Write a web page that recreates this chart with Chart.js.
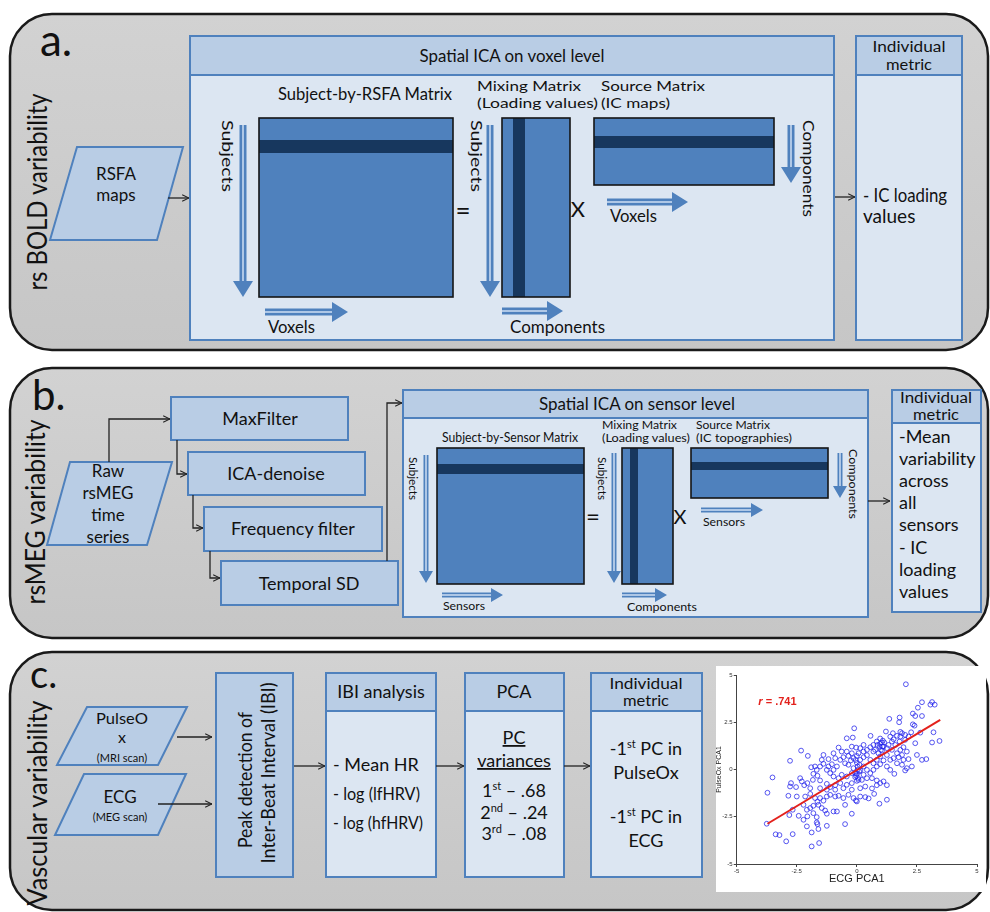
<!DOCTYPE html>
<html><head><meta charset="utf-8">
<script src="https://cdn.jsdelivr.net/npm/chart.js@4.4.0/dist/chart.umd.min.js"></script>
<style>
html,body{margin:0;padding:0;background:#fff;}
#wrap{position:relative;width:990px;height:912px;overflow:hidden;background:#fff;}
#diagram{position:absolute;left:0;top:0;}
#scatterBox{position:absolute;left:712px;top:668px;width:272px;height:222px;}
</style></head><body>
<div id="wrap"><svg id="diagram" width="990" height="912" xmlns="http://www.w3.org/2000/svg"></svg>
<div id="scatterBox"><canvas id="c" width="272" height="222"></canvas></div></div>
<script>
// ---------------- data ----------------
const scatterX = [2.04,2.71,3.13,3.24,3.06,2.54,2.33,2.71,2.43,1.35,
1.78,1.76,2.33,2.40,-0.11,1.21,1.81,3.19,2.26,2.64,
-0.42,-0.17,0.57,0.97,1.08,1.39,1.53,1.67,1.88,2.01,
2.15,2.43,3.13,3.44,-2.32,-2.04,-2.78,-0.76,-0.42,-0.21,
-0.03,0.14,0.28,0.42,0.56,0.76,0.86,1.04,1.11,1.25,
1.46,1.67,1.81,1.94,2.08,2.50,2.71,2.89,2.15,-1.46,
-1.39,-1.18,-1.04,-0.97,-0.83,-0.69,-0.56,-0.49,-0.35,-0.25,
-0.14,0.00,0.14,0.28,0.42,0.56,0.69,0.83,0.97,1.11,
1.25,1.39,1.56,1.67,1.88,2.08,2.29,2.01,-1.90,-1.67,
-1.81,-2.36,-2.74,-2.53,-2.29,-2.19,-2.06,-1.83,-1.64,-1.53,
-1.25,-1.11,-0.90,-0.69,-0.56,-0.42,-0.21,-0.07,0.00,0.03,
0.14,0.21,0.42,0.63,0.83,0.97,1.11,1.25,0.63,0.83,
-3.51,-3.72,-2.85,-2.50,-2.15,-1.94,-1.74,-1.64,-1.53,-1.39,
-1.25,-1.11,-0.90,-0.76,-0.56,-0.35,-0.14,0.00,0.14,0.35,
0.49,0.72,-0.04,-2.67,-2.22,-2.08,-1.94,-1.81,-1.60,-1.46,
-1.32,-1.25,-0.97,-0.83,-0.49,-0.21,0.94,1.25,-2.81,-2.42,
-2.22,-2.06,-1.81,-1.67,-1.67,-1.64,-1.60,-1.25,-0.49,-3.38,
-3.22,-2.67,-2.94,-1.88,-1.57,-1.88,-2.08,-3.75,-0.07,-0.03,
0.03,-0.14,0.11,0.28,0.42,0.56,0.69,0.83,0.97,1.00,
1.06,0.97,1.14,0.83,0.69,0.28,0.07,-0.21,-0.35,-0.21,
-0.42,-0.63,-0.76,-0.97,-1.11,-1.25,-1.39,-1.18,-1.53,-1.74,
-0.90,-0.97,-0.63,1.53,1.74,1.94,1.88,1.60,1.78,2.01,
1.81,1.50,1.46,1.32,0.69,0.90,1.25,1.39,0.28,0.07,
-0.21,0.14,0.35,-0.90,-1.25,-1.53,-1.94,-2.78,0.00,0.05,
-0.05,0.10,0.00,0.95,1.05];
const scatterY = [4.51,3.56,3.57,3.43,3.43,3.27,2.96,2.83,2.83,2.68,
2.75,2.50,2.39,2.32,2.18,2.01,1.99,1.97,1.97,1.95,
1.65,1.69,1.78,1.64,1.53,1.74,1.60,1.78,1.92,1.57,
1.74,1.39,1.43,1.51,1.00,0.72,0.46,1.16,0.95,1.21,
1.16,1.13,1.30,1.04,1.18,1.04,1.30,1.43,1.21,1.13,
1.04,0.86,1.04,1.18,0.95,0.77,0.51,0.55,0.55,0.51,
0.30,0.16,0.28,-0.02,0.16,0.51,0.65,0.33,0.72,0.48,
0.60,0.72,0.51,0.65,0.76,0.51,0.33,0.16,0.28,0.48,
0.16,-0.02,-0.23,0.33,0.25,0.07,0.16,-0.05,0.12,-0.02,
-0.23,-0.46,-0.72,-0.93,-0.63,-0.83,-0.72,-0.55,-0.33,-0.58,
-0.76,-0.93,-0.83,-0.72,-0.99,-0.81,-0.72,-0.40,-0.23,-0.02,
-0.05,-0.55,-0.46,-0.46,-0.58,-0.72,-0.63,-0.83,-1.00,-0.83,
-0.42,-1.23,-1.39,-1.43,-1.43,-1.29,-1.51,-1.71,-1.51,-1.65,
-1.43,-1.34,-1.43,-1.39,-1.51,-1.34,-1.51,-1.69,-1.43,-1.46,
-1.53,-1.29,-1.64,-2.13,-1.87,-2.13,-2.04,-1.92,-1.87,-2.04,
-2.17,-2.34,-2.22,-2.22,-1.87,-2.34,-1.81,-1.60,-2.41,-2.45,
-2.66,-2.48,-2.31,-2.52,-2.80,-2.89,-3.15,-2.98,-2.89,-3.43,
-3.47,-3.42,-3.80,-4.07,-3.89,-3.33,-3.01,-2.87,-0.19,-0.33,
0.16,0.07,0.25,0.16,-0.02,-0.19,-0.02,0.51,0.69,1.04,
1.21,1.36,1.43,1.48,1.30,0.95,0.86,0.86,0.25,-0.19,
-0.37,-0.28,-0.46,-0.37,-0.19,-0.02,0.77,0.55,0.16,0.16,
0.60,0.86,0.95,0.60,0.65,0.51,0.77,1.30,1.48,1.83,
1.74,1.92,1.48,1.30,0.95,0.86,0.77,0.51,-0.28,-0.55,
-1.07,-0.99,-0.90,-1.07,-1.07,-0.99,-0.99,-0.90,0.35,-0.45,
0.50,-0.10,-0.60,1.20,1.00];
const fitX = [-3.72, 3.47];
const fitY = [-2.87, 2.62];
const axisTicks = [-5, -2.5, 0, 2.5, 5];
const xTitle = 'ECG PCA1';
const yTitle = 'PulseOx PCA1';
const rLabel = { r: 'r', rest: ' = .741', x: -4.1, y: 3.55 };
const pcOrdinals = ['1', '2', '3'];
const pcSuffix = ['st', 'nd', 'rd'];
const pcVariances = ['.68', '.24', '.08'];

// ---------------- diagram (SVG) ----------------
const F = "Lato, 'Open Sans', sans-serif";
const BLUE = '#4f81bd', HEAD = '#b9cde5', BODY = '#dce6f2', DARK = '#17375e', LIGHT = '#c6d9f1';
const esc = t => t.replace(/&/g,'&amp;').replace(/</g,'&lt;');
function txt(x, y, str, o = {}) {
  const size = o.size || 17, anchor = o.anchor || 'start', fill = o.fill || '#111';
  let a = `font-family="${F}" font-size="${size}" fill="${fill}" text-anchor="${anchor}"`;
  if (o.len) a += ` textLength="${o.len}" lengthAdjust="spacingAndGlyphs"`;
  if (o.extra) a += ' ' + o.extra;
  const c = o.raw ? str : esc(str);
  if (o.rot) return `<text transform="translate(${x},${y}) rotate(${o.rot})" ${a}>${c}</text>`;
  return `<text x="${x}" y="${y}" ${a}>${c}</text>`;
}
function rect(x, y, w, h, fill, stroke, sw) {
  return `<rect x="${x}" y="${y}" width="${w}" height="${h}" fill="${fill}"${stroke ? ` stroke="${stroke}" stroke-width="${sw||1.5}"` : ''}/>`;
}
function panel(x, y, w, h) {
  return `<rect x="${x}" y="${y}" width="${w}" height="${h}" rx="42" ry="42" fill="url(#pg)" stroke="#1a1a1a" stroke-width="2.5"/>`;
}
function hbox(x, y, w, h, hh) {
  return rect(x, y, w, h, BODY, BLUE, 2) + rect(x, y, w, hh, HEAD, BLUE, 2);
}
function matrix(x, y, w, h, band) {
  let s = rect(x, y, w, h, BLUE);
  if (band.dir === 'h') s += rect(x, band.p, w, band.s, DARK);
  else s += rect(band.p, y, band.s, h, DARK);
  s += `<rect x="${x}" y="${y}" width="${w}" height="${h}" fill="none" stroke="#151515" stroke-width="1.6"/>`;
  return s;
}
function arrowDown(cx, y1, y2, sw, hw, hl) {
  const p = [[cx-sw/2,y1],[cx+sw/2,y1],[cx+sw/2,y2-hl],[cx+hw/2,y2-hl],[cx,y2],[cx-hw/2,y2-hl],[cx-sw/2,y2-hl]];
  return `<polygon points="${p.map(q=>q.join(',')).join(' ')}" fill="${BLUE}"/>` +
    rect(cx-0.8, y1, 1.6, y2-hl-y1, LIGHT);
}
function arrowRight(x1, x2, cy, sw, hw, hl) {
  const p = [[x1,cy-sw/2],[x2-hl,cy-sw/2],[x2-hl,cy-hw/2],[x2,cy],[x2-hl,cy+hw/2],[x2-hl,cy+sw/2],[x1,cy+sw/2]];
  return `<polygon points="${p.map(q=>q.join(',')).join(' ')}" fill="${BLUE}"/>` +
    rect(x1, cy-0.8, x2-hl-x1, 1.6, LIGHT);
}
function conn(pts) {
  return `<polyline points="${pts.map(q=>q.join(',')).join(' ')}" fill="none" stroke="#222" stroke-width="1.3" marker-end="url(#ah)"/>`;
}
function para(pts) {
  return `<polygon points="${pts.map(q=>q.join(',')).join(' ')}" fill="${HEAD}" stroke="${BLUE}" stroke-width="2"/>`;
}

let s = `<defs>
<linearGradient id="pg" x1="0" y1="0" x2="0" y2="1"><stop offset="0" stop-color="#d2d2d2"/><stop offset="1" stop-color="#c6c6c6"/></linearGradient>
<marker id="ah" viewBox="0 0 10 10" refX="9.5" refY="5" markerWidth="8" markerHeight="8" markerUnits="userSpaceOnUse" orient="auto">
<path d="M1,1 L9.5,5 L1,9" fill="none" stroke="#222" stroke-width="1.4"/></marker></defs>`;

// ===== Panel a =====
s += panel(10, 14, 978, 336);
s += txt(40, 56, 'a.', {size: 44});
s += txt(47, 192, 'rs BOLD variability', {size: 27, anchor: 'middle', rot: -90, len: 197});
s += para([[77,147],[183,147],[157,240],[50,240]]);
s += txt(116, 180, 'RSFA', {size: 17, anchor: 'middle'});
s += txt(116, 201, 'maps', {size: 17, anchor: 'middle'});
s += conn([[168,198],[189,198]]);
s += hbox(190, 36, 644, 304, 39);
s += txt(512, 62, 'Spatial ICA on voxel level', {size: 18, anchor: 'middle', len: 185});
s += txt(365, 100, 'Subject-by-RSFA Matrix', {size: 17, anchor: 'middle', len: 174});
s += matrix(259, 118, 194, 179, {dir: 'h', p: 140, s: 13});
s += arrowDown(243, 125, 297, 7, 20, 16);
s += txt(222, 120, 'Subjects', {size: 16, rot: 90, len: 72});
s += arrowRight(265, 348, 312, 7, 20, 16);
s += txt(268, 333, 'Voxels', {size: 17, len: 47});
s += txt(463, 220, '=', {size: 26, anchor: 'middle'});
s += txt(477, 91, 'Mixing Matrix', {size: 14, len: 104});
s += txt(477, 108, '(Loading values)', {size: 14, len: 121});
s += matrix(502, 118, 68, 179, {dir: 'v', p: 513, s: 12});
s += txt(471, 120, 'Subjects', {size: 16, rot: 90, len: 72});
s += arrowDown(490, 125, 297, 7, 20, 16);
s += txt(578, 217, 'X', {size: 22, anchor: 'middle'});
s += txt(601, 91, 'Source Matrix', {size: 14, len: 104});
s += txt(601, 108, '(IC maps)', {size: 14, len: 69});
s += matrix(594, 118, 180, 67, {dir: 'h', p: 136, s: 12});
s += arrowRight(607, 688, 202, 7, 20, 16);
s += txt(610, 222, 'Voxels', {size: 17, len: 47});
s += arrowDown(791, 125, 183, 7, 20, 16);
s += txt(803, 120, 'Components', {size: 16, rot: 90, len: 97});
s += arrowRight(502, 563, 311, 7, 20, 16);
s += txt(510, 333, 'Components', {size: 17, len: 95});
s += conn([[835,197],[855,197]]);
s += hbox(856, 36, 106, 304, 39);
s += txt(909, 52, 'Individual', {size: 14.5, anchor: 'middle', len: 73});
s += txt(909, 70, 'metric', {size: 14.5, anchor: 'middle', len: 46});
s += txt(863, 202, '- IC loading', {size: 19, len: 84});
s += txt(863, 223, 'values', {size: 19});

// ===== Panel b =====
s += panel(10, 368, 978, 270);
s += txt(32, 410, 'b.', {size: 42});
s += txt(45, 512, 'rsMEG variability', {size: 26, anchor: 'middle', rot: -90, len: 185});
s += para([[70,462],[172,462],[147,545],[47,545]]);
s += txt(108, 477, 'Raw', {size: 17, anchor: 'middle'});
s += txt(108, 499, 'rsMEG', {size: 17, anchor: 'middle'});
s += txt(108, 521, 'time', {size: 17, anchor: 'middle'});
s += txt(108, 543, 'series', {size: 17, anchor: 'middle'});
s += conn([[109,462],[109,419],[170,419]]);
s += rect(171, 397, 177, 43, HEAD, BLUE, 2) + txt(260, 425, 'MaxFilter', {size: 18, anchor: 'middle'});
s += conn([[177,440],[177,474],[187,474]]);
s += rect(188, 452, 177, 43, HEAD, BLUE, 2) + txt(276, 480, 'ICA-denoise', {size: 18, anchor: 'middle'});
s += conn([[193,495],[193,528],[203,528]]);
s += rect(204, 507, 178, 44, HEAD, BLUE, 2) + txt(293, 535, 'Frequency filter', {size: 18, anchor: 'middle'});
s += conn([[210,551],[210,578],[220,578]]);
s += rect(221, 561, 177, 44, HEAD, BLUE, 2) + txt(309, 590, 'Temporal SD', {size: 18, anchor: 'middle'});
s += conn([[387,561],[387,403],[402,403]]);
s += hbox(403, 390, 465, 227, 28);
s += txt(637, 410, 'Spatial ICA on sensor level', {size: 18, anchor: 'middle', len: 196});
s += txt(510, 442, 'Subject-by-Sensor Matrix', {size: 13, anchor: 'middle', len: 136});
s += matrix(437, 448, 147, 136, {dir: 'h', p: 464, s: 10});
s += arrowDown(426, 455, 583, 5, 14, 12);
s += txt(409, 457, 'Subjects', {size: 12, rot: 90, len: 43});
s += arrowRight(442, 503, 595, 5, 14, 12);
s += txt(443, 610, 'Sensors', {size: 12, len: 42});
s += txt(593, 525, '=', {size: 24, anchor: 'middle'});
s += txt(602, 429, 'Mixing Matrix', {size: 11.5, len: 75});
s += txt(602, 442, '(Loading values)', {size: 11.5, len: 88});
s += matrix(622, 448, 51, 136, {dir: 'v', p: 630, s: 8});
s += txt(598, 457, 'Subjects', {size: 12, rot: 90, len: 43});
s += arrowDown(614, 453, 583, 5, 14, 12);
s += txt(680, 524, 'X', {size: 20, anchor: 'middle'});
s += txt(696, 429, 'Source Matrix', {size: 11.5, len: 74});
s += txt(696, 442, '(IC  topographies)', {size: 11.5, len: 96});
s += matrix(691, 448, 137, 50, {dir: 'h', p: 462, s: 8});
s += arrowRight(701, 763, 510, 5, 14, 12);
s += txt(703, 526, 'Sensors', {size: 12, len: 42});
s += arrowDown(840, 453, 498, 5, 14, 12);
s += txt(849, 449, 'Components', {size: 12, rot: 90, len: 70});
s += arrowRight(622, 667, 595, 5, 14, 12);
s += txt(627, 611, 'Components', {size: 12, len: 70});
s += conn([[868,501],[890,501]]);
s += hbox(892, 390, 89, 222, 33);
s += txt(936, 403, 'Individual', {size: 14.5, anchor: 'middle', len: 72});
s += txt(936, 420, 'metric', {size: 14.5, anchor: 'middle', len: 46});
['-Mean','variability','across','all','sensors','- IC','loading','values'].forEach((l, i) => {
  s += txt(899, 443 + i * 22.1, l, {size: 18});
});

// ===== Panel c =====
s += panel(10, 652, 978, 258);
s += txt(30, 688, 'c.', {size: 38});
s += txt(47, 803, 'Vascular variability', {size: 26, anchor: 'middle', rot: -90, len: 205});
s += para([[87,707],[187,707],[158,765],[57,765]]);
s += txt(122, 724, 'PulseO', {size: 16, anchor: 'middle', len: 52});
s += txt(122, 743, 'x', {size: 16, anchor: 'middle'});
s += txt(122, 762, '(MRI scan)', {size: 11, anchor: 'middle'});
s += para([[84,774],[186,774],[158,835],[55,835]]);
s += txt(120, 803, 'ECG', {size: 17, anchor: 'middle'});
s += txt(120, 821, '(MEG scan)', {size: 11, anchor: 'middle'});
s += conn([[177,737],[212,737]]);
s += conn([[158,804],[212,804]]);
s += rect(216, 673, 77, 204, HEAD, BLUE, 2);
s += txt(252, 780, 'Peak detection of', {size: 19, anchor: 'middle', rot: -90, len: 136});
s += txt(275, 773, 'Inter-Beat Interval (IBI)', {size: 19, anchor: 'middle', rot: -90, len: 181});
s += conn([[294,766],[325,766]]);
s += hbox(326, 673, 110, 204, 38);
s += txt(381, 698, 'IBI analysis', {size: 18, anchor: 'middle'});
s += txt(333, 771, '- Mean HR', {size: 18});
s += txt(333, 800, '- log (lfHRV)', {size: 18, len: 87});
s += txt(333, 829, '- log (hfHRV)', {size: 18, len: 90});
s += conn([[436,766],[464,766]]);
s += hbox(465, 673, 99, 204, 38);
s += txt(514, 698, 'PCA', {size: 18, anchor: 'middle'});
s += txt(514, 744, 'PC', {size: 18, anchor: 'middle', extra: 'text-decoration="underline"'});
s += txt(514, 767, 'variances', {size: 18, anchor: 'middle', extra: 'text-decoration="underline"'});
pcOrdinals.forEach((n, i) => {
  const str = `${n}<tspan dy="-7" font-size="11">${pcSuffix[i]}</tspan><tspan dy="7"> – ${pcVariances[i]}</tspan>`;
  s += txt(514, 797 + i * 21.5, str, {size: 18, anchor: 'middle', raw: true});
});
s += conn([[564,766],[590,766]]);
s += hbox(591, 673, 111, 204, 38);
s += txt(646, 689, 'Individual', {size: 14.5, anchor: 'middle', len: 73});
s += txt(646, 706, 'metric', {size: 14.5, anchor: 'middle', len: 46});
const pcIn = `-1<tspan dy="-7" font-size="11">st</tspan><tspan dy="7"> PC in</tspan>`;
s += txt(646, 755, pcIn, {size: 18, anchor: 'middle', raw: true});
s += txt(646, 779, 'PulseOx', {size: 18, anchor: 'middle'});
s += txt(646, 823, pcIn, {size: 18, anchor: 'middle', raw: true});
s += txt(646, 847, 'ECG', {size: 18, anchor: 'middle'});
s += rect(716, 666, 270, 226, '#ffffff');

document.getElementById('diagram').innerHTML = s;

// ---------------- scatter (Chart.js) ----------------
const rPlugin = {
  id: 'rLabel',
  afterDatasetsDraw(chart) {
    const {ctx, scales} = chart;
    const px = scales.x.getPixelForValue(rLabel.x), py = scales.y.getPixelForValue(rLabel.y);
    ctx.save();
    ctx.fillStyle = '#e3211c';
    ctx.textBaseline = 'middle';
    ctx.font = 'italic bold 11px Arial, "Liberation Sans", sans-serif';
    ctx.fillText(rLabel.r, px, py);
    const w = ctx.measureText(rLabel.r).width;
    ctx.font = 'bold 11px Arial, "Liberation Sans", sans-serif';
    ctx.fillText(rLabel.rest, px + w, py);
    ctx.restore();
  }
};
const axisCommon = (title, titleSize, titlePad) => ({
  type: 'linear', min: -5, max: 5,
  afterBuildTicks: sc => { sc.ticks = axisTicks.map(v => ({value: v})); },
  ticks: {font: {size: 6, family: 'Arial, "Liberation Sans", sans-serif'}, color: '#333', padding: 1,
          autoSkip: false, maxRotation: 0, callback: v => String(v)},
  grid: {drawOnChartArea: false, tickLength: 3, color: '#444'},
  border: {color: '#444', width: 1},
  title: {display: true, text: title, color: '#222', padding: titlePad,
          font: {size: titleSize, family: 'Arial, "Liberation Sans", sans-serif'}}
});
const xAxis = axisCommon(xTitle, 11, {top: 0, bottom: 4});
xAxis.afterFit = sc => { sc.height = 26; };
const yAxis = axisCommon(yTitle, 7, {top: 3, bottom: 0});
yAxis.afterFit = sc => { sc.width = 24.7; };

new Chart(document.getElementById('c'), {
  data: {
    datasets: [
      {type: 'line', data: fitX.map((x, i) => ({x, y: fitY[i]})), borderColor: '#e3211c', borderWidth: 2,
       pointRadius: 0, order: 0},
      {type: 'scatter', data: scatterX.map((x, i) => ({x, y: scatterY[i]})), pointStyle: 'circle', pointRadius: 2.4,
       borderWidth: 0.9, borderColor: 'rgba(35,35,235,0.85)', backgroundColor: 'rgba(0,0,0,0)', order: 1}
    ]
  },
  options: {
    responsive: false, animation: false,
    layout: {padding: {left: 0, top: 7, right: 7, bottom: 0}},
    plugins: {legend: {display: false}, tooltip: {enabled: false}},
    scales: {x: xAxis, y: yAxis}
  },
  plugins: [rPlugin]
});
</script>
</body></html>
